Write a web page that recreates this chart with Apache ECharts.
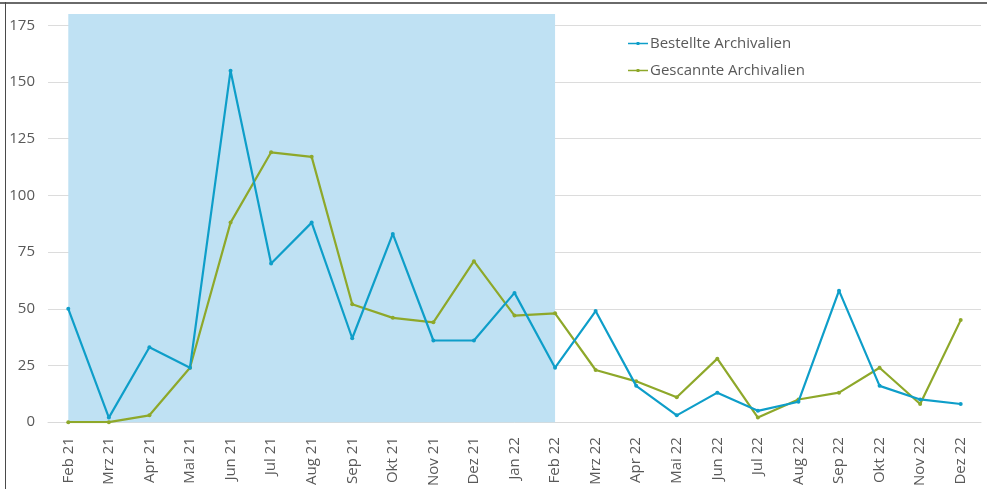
<!DOCTYPE html>
<html>
<head>
<meta charset="utf-8">
<script src="https://cdn.jsdelivr.net/npm/echarts@6/dist/echarts.min.js"></script>
<style>
  html, body { margin: 0; padding: 0; background: #ffffff; }
  #frame { position: absolute; left: 0; top: 0; width: 987px; height: 489px; }
  #frame::before { content: ""; position: absolute; left: 0; top: 2px; width: 987px; height: 2px; background: #6a6a6a; z-index: 2; }
  #frame::after { content: ""; position: absolute; left: 5px; top: 2px; width: 1px; height: 487px; background: #4a4a4a; z-index: 2; }
  #chart { position: absolute; left: 0; top: 0; width: 987px; height: 489px; }
</style>
</head>
<body>
<div id="frame"><div id="chart"></div></div>
<script>
// Monthly figures, Feb 2021 – Dez 2022
const months = ['Feb 21','Mrz 21','Apr 21','Mai 21','Jun 21','Jul 21','Aug 21','Sep 21','Okt 21','Nov 21','Dez 21','Jan 22',
                'Feb 22','Mrz 22','Apr 22','Mai 22','Jun 22','Jul 22','Aug 22','Sep 22','Okt 22','Nov 22','Dez 22'];
const bestellt = [50, 2, 33, 24, 155, 70, 88, 37, 83, 36, 36, 57, 24, 49, 16, 3, 13, 5, 9, 58, 16, 10, 8];
const gescannt = [0, 0, 3, 24, 88, 119, 117, 52, 46, 44, 71, 47, 48, 23, 18, 11, 28, 2, 10, 13, 24, 8, 45];
const seriesNames = ['Bestellte Archivalien', 'Gescannte Archivalien'];
// highlighted period (first year of the project)
const periodStart = 'Feb 21';
const periodEnd = 'Feb 22';
// value axis: labelled 0–175, plot area reaches a little higher for the highlight band
const yTop = 180;
const yStep = 25;

const FONT = '"Open Sans", Lato, sans-serif';
const TEXT = '#595959';
const BLUE = '#0e9ec9';
const GREEN = '#8ea82a';

// legend glyph: short line with a small dot in the middle
const legendIcon = 'path://M0,5.2 L20,5.2 L20,6.8 L0,6.8 Z M8.6,4.4 L11.4,4.4 L11.4,7.6 L8.6,7.6 Z';

const chart = echarts.init(document.getElementById('chart'), null, { renderer: 'canvas' });
chart.setOption({
  animation: false,
  grid: { left: 48, right: 6, top: 14, bottom: 65, containLabel: false },
  legend: {
    orient: 'vertical',
    left: 623, top: 31,
    icon: legendIcon,
    itemWidth: 20, itemHeight: 12, itemGap: 12,
    textStyle: { color: TEXT, fontFamily: FONT, fontSize: 15, padding: [0, 0, 0, -3] },
    data: seriesNames
  },
  xAxis: {
    type: 'category',
    data: months,
    boundaryGap: true,
    axisLine: { show: true, lineStyle: { color: '#d9d9d9', width: 1 } },
    axisTick: { show: false },
    axisLabel: { rotate: 90, margin: 15, color: TEXT, fontFamily: FONT, fontSize: 15, interval: 0 },
    splitLine: { show: false }
  },
  yAxis: {
    type: 'value',
    min: 0, max: yTop, interval: yStep,
    axisLine: { show: false },
    axisTick: { show: false },
    axisLabel: { margin: 13, color: TEXT, fontFamily: FONT, fontSize: 15, showMaxLabel: false },
    splitLine: { showMaxLine: false, lineStyle: { color: '#dcdcdc', width: 1 } }
  },
  series: [
    {
      name: seriesNames[0],
      type: 'line',
      data: bestellt,
      symbol: 'circle', symbolSize: 4,
      lineStyle: { color: BLUE, width: 2.2 },
      itemStyle: { color: BLUE },
      z: 3,
      markArea: {
        silent: true,
        itemStyle: { color: '#bfe1f3' },
        data: [[ { xAxis: periodStart, yAxis: 0 }, { xAxis: periodEnd, yAxis: yTop } ]]
      }
    },
    {
      name: seriesNames[1],
      type: 'line',
      data: gescannt,
      symbol: 'circle', symbolSize: 4,
      lineStyle: { color: GREEN, width: 2.2 },
      itemStyle: { color: GREEN },
      z: 2
    }
  ]
});
</script>
</body>
</html>
